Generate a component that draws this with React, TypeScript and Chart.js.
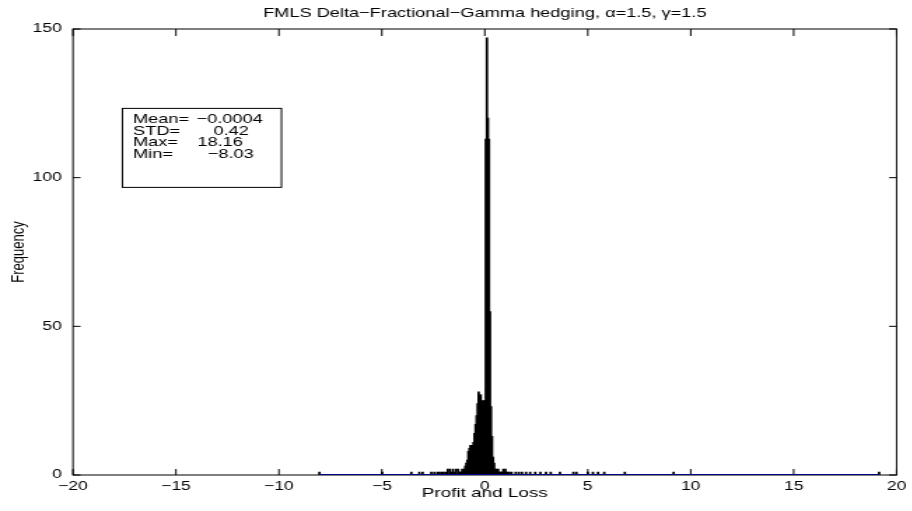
import { useEffect, useRef } from 'react'
import { Chart, registerables } from 'chart.js'

Chart.register(...registerables)

const FONT = '"Liberation Sans", Arial, Helvetica, sans-serif'
Chart.defaults.font.family = FONT

// the original figure was stretched sideways when it was exported
const STRETCH = 1.4
const WIDTH = 912
const HEIGHT = 511

const TITLE = 'FMLS Delta\u2212Fractional\u2212Gamma hedging, \u03b1=1.5, \u03b3=1.5'
const X_LABEL = 'Profit and Loss'
const Y_LABEL = 'Frequency'
const X_RANGE = [-20, 20]
const Y_RANGE = [0, 150]
const X_STEP = 5
const Y_STEP = 50

// histogram core: bins every 0.05 starting at -1.20
const BIN_WIDTH = 0.05
const CORE_START = -1.2
const CORE_COUNTS = [
  1, 1, 2, 1, 2, 3, 4, 5, 8, 9,
  10, 10, 10, 11, 14, 17, 20, 24, 28, 27,
  27, 25, 23, 25, 25, 113, 147, 120, 113, 55,
  23, 13, 6, 4, 2, 2, 1, 2, 1, 1, 1,
]

// sparse tails
const LEFT_TAIL_X = [-8.03, -4.99, -3.57, -3.18, -3.02, -2.6, -2.45, -2.3, -2.2, -2.1, -2.0, -1.9, -1.8, -1.7, -1.6, -1.55, -1.45, -1.4, -1.3, -1.25]
const LEFT_TAIL_COUNTS = [1, 1, 1, 1, 1, 1, 1, 1, 1, 1, 1, 1, 2, 2, 1, 2, 1, 2, 2, 1]
const RIGHT_TAIL_X = [0.85, 0.9, 0.95, 1.0, 1.05, 1.1, 1.2, 1.3, 1.5, 1.65, 1.8, 2.0, 2.2, 2.45, 2.7, 2.97, 3.2, 3.65, 4.3, 4.45, 5.0, 5.25, 5.5, 5.8, 6.8, 9.17, 19.15]
const RIGHT_TAIL_COUNTS = [1, 2, 1, 2, 1, 1, 1, 1, 1, 1, 1, 1, 1, 1, 1, 1, 1, 1, 1, 1, 1, 1, 1, 1, 1, 1, 1]

// blue edge line of the empty bins
const BASELINE_X = [-8.03, 19.15]

const STATS_LABELS = ['Mean=', 'STD=', 'Max=', 'Min=']
const STATS_VALUES = ['\u22120.0004', '0.42', '18.16', '\u22128.03']
const STATS_ANCHOR = [-17.6, 123.3]

const fmt = (v: number | string) => String(v).replace('-', '\u2212')

const boxPlugin = {
  id: 'matlabBox',
  beforeDatasetsDraw(chart: any) {
    const { ctx, chartArea: a, scales } = chart
    ctx.save()
    ctx.strokeStyle = '#000'
    ctx.lineWidth = 1
    ctx.strokeRect(a.left, a.top, a.right - a.left, a.bottom - a.top)
    ctx.beginPath()
    for (const t of scales.x.ticks) {
      const px = scales.x.getPixelForValue(t.value)
      ctx.moveTo(px, a.bottom)
      ctx.lineTo(px, a.bottom - 6)
      ctx.moveTo(px, a.top)
      ctx.lineTo(px, a.top + 7)
    }
    for (const t of scales.y.ticks) {
      const py = scales.y.getPixelForValue(t.value)
      ctx.moveTo(a.left, py)
      ctx.lineTo(a.left + 5.4, py)
      ctx.moveTo(a.right, py)
      ctx.lineTo(a.right - 5.4, py)
    }
    ctx.stroke()
    ctx.restore()
  },
}

const statsPlugin = {
  id: 'statsBox',
  afterDatasetsDraw(chart: any) {
    const { ctx, scales } = chart
    const left = scales.x.getPixelForValue(STATS_ANCHOR[0])
    const top = scales.y.getPixelForValue(STATS_ANCHOR[1])
    const valueX = [53, 65, 53.5, 61]
    ctx.save()
    ctx.fillStyle = '#fff'
    ctx.fillRect(left, top, 113.6, 79)
    ctx.strokeStyle = '#000'
    ctx.lineWidth = 1
    ctx.strokeRect(left, top, 113.6, 79)
    ctx.fillStyle = '#000'
    ctx.font = `13px ${FONT}`
    ctx.textBaseline = 'middle'
    STATS_LABELS.forEach((label, i) => {
      const y = top + 11 + i * 11.6
      ctx.fillText(label, left + 7.6, y)
      ctx.fillText(STATS_VALUES[i], left + valueX[i], y)
    })
    ctx.restore()
  },
}

export default function App() {
  const ref = useRef<HTMLCanvasElement>(null)

  useEffect(() => {
    document.body.style.margin = '0'
    if (!ref.current) return
    const bars = [
      ...CORE_COUNTS.map((y, i) => ({ x: CORE_START + i * BIN_WIDTH, y })),
      ...LEFT_TAIL_X.map((x, i) => ({ x, y: LEFT_TAIL_COUNTS[i] })),
      ...RIGHT_TAIL_X.map((x, i) => ({ x, y: RIGHT_TAIL_COUNTS[i] })),
    ].sort((p, q) => p.x - q.x)

    const chart = new Chart(ref.current, {
      type: 'bar',
      data: {
        datasets: [
          {
            type: 'line',
            data: BASELINE_X.map((x) => ({ x, y: 0 })),
            borderColor: '#000080',
            borderWidth: 2,
            pointRadius: 0,
            order: 0,
          } as any,
          {
            type: 'bar',
            data: bars,
            backgroundColor: '#000',
            borderWidth: 0,
            barThickness: 1.1,
            order: 1,
          },
        ],
      },
      options: {
        animation: false,
        responsive: true,
        maintainAspectRatio: false,
        layout: { padding: { left: 0, right: WIDTH / STRETCH - 900 / STRETCH, top: 0, bottom: 0 } },
        plugins: {
          legend: { display: false },
          tooltip: { enabled: false },
          title: {
            display: true,
            text: TITLE,
            color: '#000',
            fullSize: false,
            font: { size: 13, weight: 'normal' },
            padding: { top: 6, bottom: 7.4 },
          },
        },
        scales: {
          x: {
            type: 'linear',
            min: X_RANGE[0],
            max: X_RANGE[1],
            offset: false,
            grid: { display: false, drawTicks: false },
            border: { display: false },
            ticks: {
              stepSize: X_STEP,
              padding: 4,
              color: '#000',
              font: { size: 12.5 },
              maxRotation: 0,
              autoSkip: false,
              callback: (v) => fmt(v),
            },
            title: { display: true, text: X_LABEL, color: '#000', font: { size: 13.5 }, padding: { top: 0, bottom: 10 } },
            afterFit: (s: any) => {
              s.height = 36
            },
          },
          y: {
            min: Y_RANGE[0],
            max: Y_RANGE[1],
            grid: { display: false, drawTicks: false },
            border: { display: false },
            ticks: {
              stepSize: Y_STEP,
              padding: 8,
              color: '#000',
              font: { size: 12.5 },
              callback: (v) => fmt(v),
            },
            title: { display: true, text: Y_LABEL, color: '#000', font: { size: 13 }, padding: { top: 6, bottom: 0 } },
            afterFit: (s: any) => {
              s.width = 73 / STRETCH
            },
          },
        },
      },
      plugins: [boxPlugin, statsPlugin],
    })
    return () => chart.destroy()
  }, [])

  return (
    <div style={{ width: WIDTH, height: HEIGHT, overflow: 'hidden', background: '#fff' }}>
      <div
        style={{
          position: 'relative',
          width: WIDTH / STRETCH,
          height: HEIGHT,
          transform: `scaleX(${STRETCH})`,
          transformOrigin: '0 0',
        }}
      >
        <canvas ref={ref} role="img" aria-label="Histogram of profit and loss" />
      </div>
    </div>
  )
}
